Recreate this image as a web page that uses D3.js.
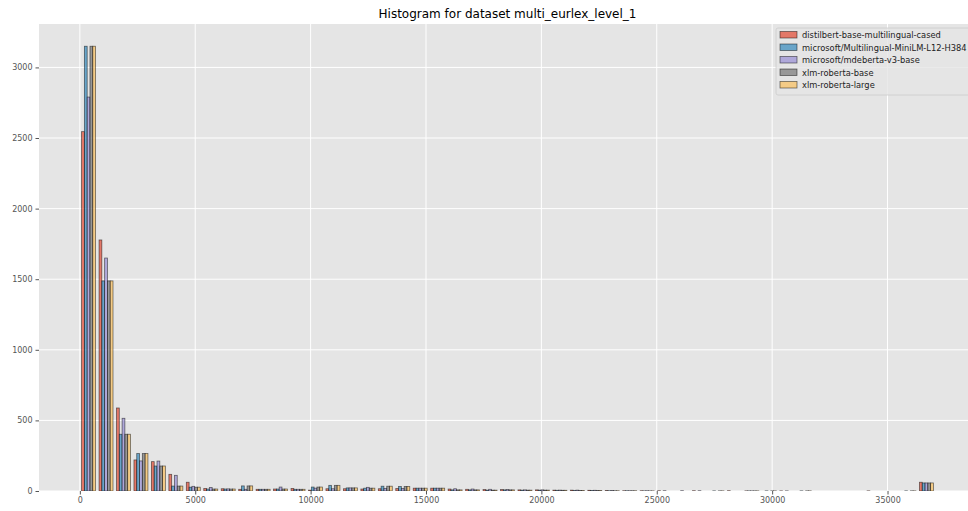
<!DOCTYPE html>
<html>
<head>
<meta charset="utf-8">
<script src="https://cdn.jsdelivr.net/npm/d3@7/dist/d3.min.js"></script>
<style>
  html, body { margin: 0; padding: 0; background: #fff; overflow: hidden; }
  svg { display: block; font-family: "DejaVu Sans", sans-serif; }
</style>
</head>
<body>
<svg id="chart" width="968" height="511"></svg>
<script>
// ---- Data ----
const title = "Histogram for dataset multi_eurlex_level_1";
const binLow = 0;
const binHigh = 37064;
const binCount = 49;

const seriesNames = [
  "distilbert-base-multilingual-cased",
  "microsoft/Multilingual-MiniLM-L12-H384",
  "microsoft/mdeberta-v3-base",
  "xlm-roberta-base",
  "xlm-roberta-large"
];
const seriesColors = ["#E24A33", "#348ABD", "#988ED5", "#777777", "#FBC15E"];

const distilbert = [2545,1778,588,220,208,118,62,18,16,12, 12,14,18,6,16,16,14,16,18,20, 20,14,12,10,10,8,8,6,6,5, 3,2,2,2,0,2,0,2,1,0, 1,0,0,0,0,1,0,0,62];
const miniLM     = [3150,1488,402,265,177,35,27,14,14,36, 12,14,12,28,40,22,20,34,32,20, 20,8,8,6,8,6,6,5,4,4, 2,2,1,0,0,0,1,0,1,1, 0,1,0,0,0,0,0,1,57];
const mdeberta   = [2790,1650,515,213,212,111,33,25,15,12, 12,28,12,20,16,22,26,18,18,20, 20,16,14,12,10,8,8,6,6,5, 3,2,2,2,2,2,0,0,1,0, 1,0,0,0,0,0,0,0,57];
const xlmrBase   = [3150,1488,402,265,177,35,27,14,14,36, 12,14,12,28,40,22,20,34,32,20, 20,8,8,6,8,6,6,5,4,4, 2,2,1,0,0,0,1,0,1,1, 0,1,0,0,0,0,0,1,57];
const xlmrLarge  = [3150,1488,402,265,177,35,27,14,14,36, 12,14,12,28,40,22,20,34,32,20, 20,8,8,6,8,6,6,5,4,4, 2,2,1,0,0,0,1,0,1,1, 0,1,0,0,0,0,0,1,57];

const xTicks = [0, 5000, 10000, 15000, 20000, 25000, 30000, 35000];
const yTicks = [0, 500, 1000, 1500, 2000, 2500, 3000];

// ---- Layout ----
const svg = d3.select("#chart");
const plot = { left: 39, right: 976, top: 24, bottom: 491 };

const allSeries = [distilbert, miniLM, mdeberta, xlmrBase, xlmrLarge];
const binW = (binHigh - binLow) / binCount;
const edges = d3.range(binCount + 1).map(i => binLow + i * binW);
const dr = 0.8;
const nS = allSeries.length;
const barW = dr * binW / nS;

const dataMin = edges[0] + (1 - dr) / 2 * binW;
const dataMax = edges[binCount] - (1 - dr) / 2 * binW;
const mx = 0.05 * (dataMax - dataMin);
const x = d3.scaleLinear().domain([dataMin - mx, dataMax + mx]).range([plot.left, plot.right]);

const yMax = d3.max(allSeries, s => d3.max(s));
const y = d3.scaleLinear().domain([0, yMax * 1.05]).range([plot.bottom, plot.top]);

// background
svg.append("rect").attr("x", plot.left).attr("y", plot.top)
  .attr("width", plot.right - plot.left).attr("height", plot.bottom - plot.top)
  .attr("fill", "#E5E5E5");

// grid
const grid = svg.append("g");
grid.selectAll(".gx").data(xTicks).enter().append("line")
  .attr("x1", d => x(d)).attr("x2", d => x(d))
  .attr("y1", plot.top).attr("y2", plot.bottom)
  .attr("stroke", "#fff").attr("stroke-width", 1);
grid.selectAll(".gy").data(yTicks).enter().append("line")
  .attr("x1", plot.left).attr("x2", plot.right)
  .attr("y1", d => y(d)).attr("y2", d => y(d))
  .attr("stroke", "#fff").attr("stroke-width", 1);

// clip
svg.append("clipPath").attr("id", "clip").append("rect")
  .attr("x", plot.left).attr("y", plot.top)
  .attr("width", plot.right - plot.left).attr("height", plot.bottom - plot.top);

const barsG = svg.append("g").attr("clip-path", "url(#clip)");
allSeries.forEach((vals, j) => {
  const items = vals.map((v, i) => ({ v, i })).filter(d => d.v > 0);
  barsG.append("g").selectAll("rect").data(items).enter().append("rect")
    .attr("x", d => x(edges[d.i] + (1 - dr) / 2 * binW + j * barW))
    .attr("width", x(barW) - x(0))
    .attr("y", d => y(d.v))
    .attr("height", d => y(0) - y(d.v))
    .attr("fill", seriesColors[j]).attr("fill-opacity", 0.7)
    .attr("stroke", "#000").attr("stroke-opacity", 0.55).attr("stroke-width", 0.8);
});

// axes
const axX = d3.axisBottom(x).tickValues(xTicks).tickFormat(d3.format("d")).tickSize(3.5).tickPadding(3);
const gx = svg.append("g").attr("transform", `translate(0,${plot.bottom})`).call(axX);
gx.select(".domain").remove();
gx.selectAll("line").attr("stroke", "#555");
gx.selectAll("text").attr("fill", "#555").style("font-size", "8px").style("font-family", "DejaVu Sans");

const axY = d3.axisLeft(y).tickValues(yTicks).tickFormat(d3.format("d")).tickSize(3.5).tickPadding(3);
const gy = svg.append("g").attr("transform", `translate(${plot.left},0)`).call(axY);
gy.select(".domain").remove();
gy.selectAll("line").attr("stroke", "#555");
gy.selectAll("text").attr("fill", "#555").style("font-size", "8px").style("font-family", "DejaVu Sans");

// title
svg.append("text").attr("x", (plot.left + plot.right) / 2).attr("y", 18)
  .attr("text-anchor", "middle").style("font-size", "12px").attr("fill", "#000")
  .text(title);

// legend
const lg = svg.append("g");
lg.append("rect").attr("x", 776).attr("y", 28).attr("width", 210).attr("height", 67)
  .attr("rx", 2).attr("fill", "#E5E5E5").attr("fill-opacity", 0.8)
  .attr("stroke", "#ccc").attr("stroke-width", 0.8);
seriesNames.forEach((name, j) => {
  const cy = 35 + j * 12.5;
  lg.append("rect").attr("x", 780).attr("y", cy - 3.5).attr("width", 17).attr("height", 6.5)
    .attr("fill", seriesColors[j]).attr("fill-opacity", 0.7)
    .attr("stroke", "#000").attr("stroke-opacity", 0.55).attr("stroke-width", 0.8);
  lg.append("text").attr("x", 802).attr("y", cy + 3)
    .style("font-size", "8.3px").attr("fill", "#222").text(name);
});
</script>
</body>
</html>
